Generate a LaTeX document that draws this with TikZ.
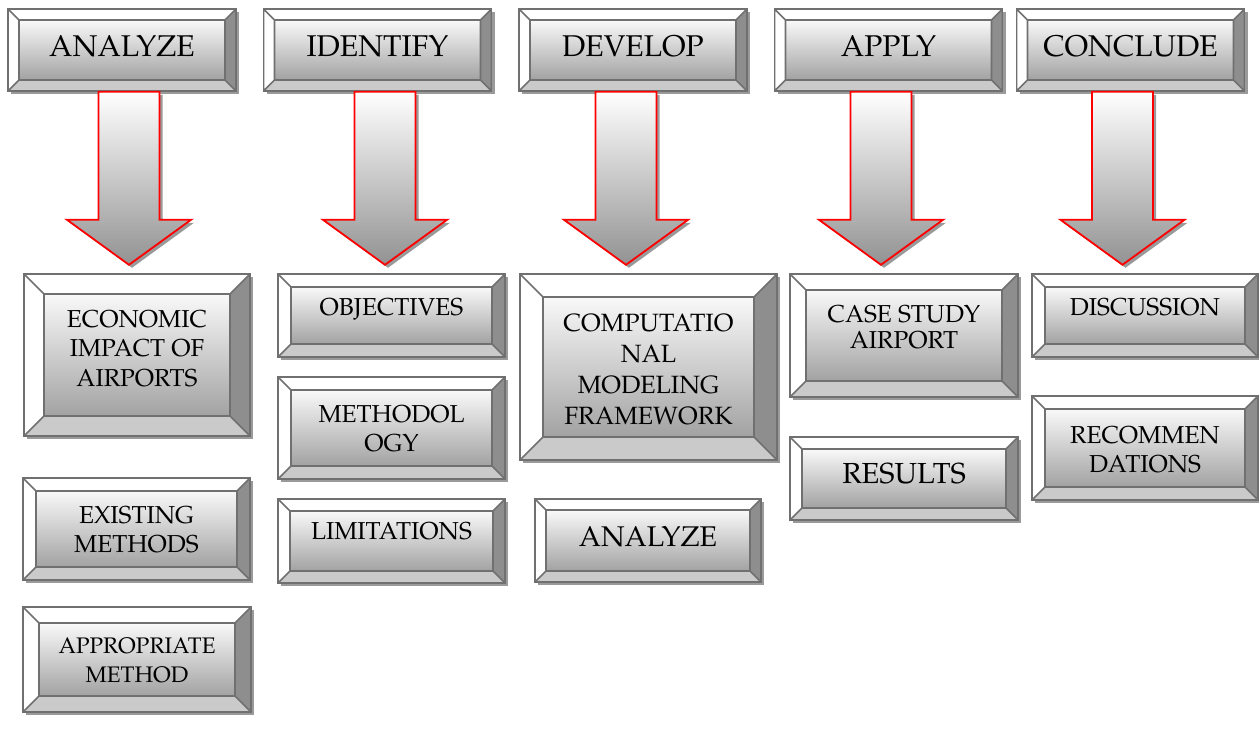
\documentclass[tikz,border=0pt]{standalone}
\usepackage[T1]{fontenc}
\usepackage{mathpazo}
\usetikzlibrary{shadows}

\definecolor{edgegray}{HTML}{707070}
\definecolor{sidegray}{HTML}{8E8E8E}
\definecolor{footgray}{HTML}{CACACA}
\definecolor{facetop}{HTML}{F9F9F9}
\definecolor{facebot}{HTML}{A2A2A2}
\definecolor{shadegray}{HTML}{9A9A9A}
\definecolor{arrowgray}{HTML}{929292}

% text of a box, lifted a little inside its frame
\newcommand{\btxt}[2][0pt]{\raisebox{#1}[\height][\depth]{\begin{tabular}{@{}c@{}}#2\end{tabular}}}

\tikzset{bev/.store in=\bevw, bev=11pt}
\tikzstyle{bevelbox} = [rectangle, draw=edgegray, line width=1.6pt, inner sep=0pt,
  general shadow={fill=shadegray, shadow xshift=3pt, shadow yshift=-3pt},
  path picture={
    \coordinate (o1) at (path picture bounding box.north west);
    \coordinate (o2) at (path picture bounding box.north east);
    \coordinate (o3) at (path picture bounding box.south east);
    \coordinate (o4) at (path picture bounding box.south west);
    \coordinate (i1) at ([shift={(\bevw,-\bevw)}]o1);
    \coordinate (i2) at ([shift={(-\bevw,-\bevw)}]o2);
    \coordinate (i3) at ([shift={(-\bevw,\bevw)}]o3);
    \coordinate (i4) at ([shift={(\bevw,\bevw)}]o4);
    \fill[white] (o1) -- (o2) -- (i2) -- (i1) -- cycle;
    \fill[white] (o1) -- (i1) -- (i4) -- (o4) -- cycle;
    \fill[sidegray] (o2) -- (o3) -- (i3) -- (i2) -- cycle;
    \fill[footgray] (o4) -- (o3) -- (i3) -- (i4) -- cycle;
    \shade[top color=facetop, bottom color=facebot] (i1) rectangle (i3);
    \draw[edgegray, line width=1.6pt] (i1) rectangle (i3)
      (o1) -- (i1) (o2) -- (i2) (o3) -- (i3) (o4) -- (i4)
      (o1) rectangle (o3);
  }]
\tikzstyle{headbox} = [bevelbox, bev=11pt, minimum width=228pt, minimum height=82pt,
  font=\fontsize{30}{36}\selectfont]
\tikzstyle{cellbox} = [bevelbox, font=\fontsize{24.5}{29.5}\selectfont]
\tikzstyle{bigarrow} = [draw=red, line width=1.8pt, top color=white, bottom color=arrowgray,
  general shadow={fill=shadegray, shadow xshift=3pt, shadow yshift=-3pt}]

% block arrow hanging under a header box
\newcommand{\dropArrow}[2]{%
  \draw[bigarrow] ([xshift=#2pt-30.5pt]#1.south) -- ++(0,128) -- ++(-31.5,0)
    -- ++(62,45) -- ++(62,-45) -- ++(-31.5,0) -- ++(0,-128) -- cycle;}

\begin{document}
\begin{tikzpicture}[x=1pt, y=-1pt, node distance=255.5pt]
\useasboundingbox (0,0) rectangle (1259,735);

\node (hanalyze) [headbox] at (122,50) {\btxt[1pt]{ANALYZE}};
\node (hidentify) [headbox, right of=hanalyze] {\btxt[1pt]{IDENTIFY}};
\node (hdevelop) [headbox, right of=hidentify] {\btxt[1pt]{DEVELOP}};
\node (happly) [headbox, right of=hdevelop] {\btxt[1pt]{APPLY}};
\node (hconclude) [headbox, right of=happly, xshift=-13.5pt] {\btxt[1pt]{CONCLUDE}};

\node (econ) [cellbox, bev=20pt, minimum width=226pt, minimum height=162pt] at (137,355)
  {\btxt[4pt]{ECONOMIC\\IMPACT OF\\AIRPORTS}};
\node (exist) [cellbox, bev=13pt, minimum width=227pt, minimum height=102pt] at (136.5,529)
  {\btxt[-3pt]{EXISTING\\METHODS}};
\node (approp) [cellbox, bev=16pt, minimum width=228pt, minimum height=105pt,
  font=\fontsize{22.5}{28.5}\selectfont] at (137,659.5)
  {\btxt[-3pt]{APPROPRIATE\\METHOD}};

\node (object) [cellbox, bev=13pt, minimum width=227pt, minimum height=83pt] at (391.5,315.5)
  {\btxt[5.7pt]{OBJECTIVES}};
\node (method) [cellbox, bev=13pt, minimum width=227pt, minimum height=102pt] at (391.5,428)
  {\btxt[-3pt]{METHODOL\\OGY}};
\node (limits) [cellbox, bev=12pt, minimum width=227pt, minimum height=84pt] at (391.5,541)
  {\btxt[7pt]{LIMITATIONS}};

\node (model) [cellbox, bev=23pt, minimum width=257pt, minimum height=186pt,
  font=\fontsize{25}{31}\selectfont] at (648.5,367)
  {\btxt[-4.5pt]{COMPUTATIO\\NAL\\MODELING\\FRAMEWORK}};
\node (analyze) [cellbox, bev=11pt, minimum width=226pt, minimum height=83pt,
  font=\fontsize{28.5}{34}\selectfont] at (648,540.5)
  {\btxt[0.5pt]{ANALYZE}};

\node (case) [cellbox, bev=16pt, minimum width=228pt, minimum height=123pt] at (904,335.5)
  {\btxt[6pt]{CASE STUDY\\[-3pt]AIRPORT}};
\node (results) [cellbox, bev=12pt, minimum width=228pt, minimum height=83pt,
  font=\fontsize{29}{35}\selectfont] at (904,478.5)
  {\btxt[2.2pt]{RESULTS}};

\node (discuss) [cellbox, bev=13pt, minimum width=226pt, minimum height=83pt] at (1145,315.5)
  {\btxt[5.7pt]{DISCUSSION}};
\node (recomm) [cellbox, bev=13pt, minimum width=226pt, minimum height=104pt] at (1145,448)
  {\btxt[-4.2pt]{RECOMMEN\\DATIONS}};

\dropArrow{hanalyze}{7}
\dropArrow{hidentify}{7.5}
\dropArrow{hdevelop}{-7}
\dropArrow{happly}{-7.5}
\dropArrow{hconclude}{-8}
\end{tikzpicture}
\end{document}
